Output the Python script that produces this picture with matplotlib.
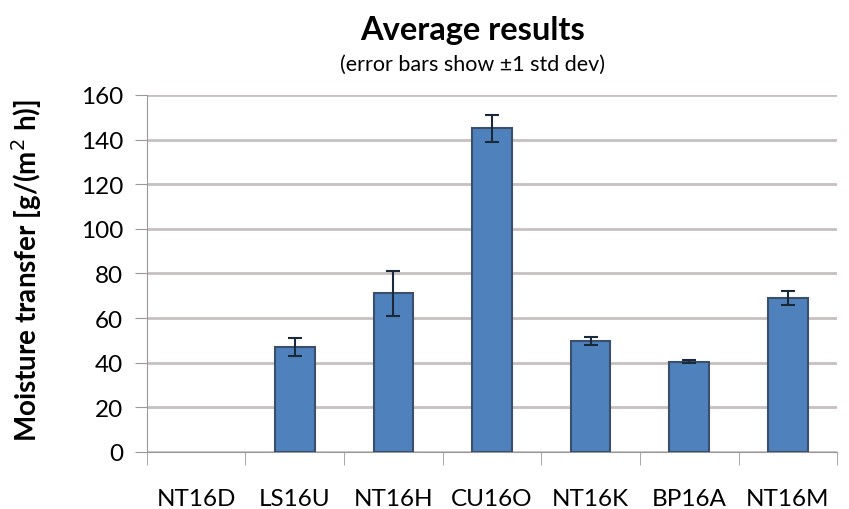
import numpy as np
import matplotlib.pyplot as plt

# ------------
# Chart values
# ------------
samples = ['NT16D', 'LS16U', 'NT16H', 'CU16O', 'NT16K', 'BP16A', 'NT16M']
mean_transfer = [0, 47, 71, 145, 49.5, 40.5, 69]
std_transfer = [0, 4, 10, 6, 1.8, 0.8, 3.2]
yticks = [0, 20, 40, 60, 80, 100, 120, 140, 160]

plt.rcParams['font.family'] = ['Lato', 'DejaVu Sans']

fig = plt.figure(figsize=(8.49, 5.1), dpi=100)
ax = fig.add_axes([0.173, 0.112, 0.813, 0.700])

x = np.arange(len(samples))
bars = ax.bar(x, mean_transfer, width=0.4, color='#4f81bd', edgecolor='#3a4f6a',
              linewidth=1.5, zorder=3)
# empty sample: no outline
for b, v in zip(bars, mean_transfer):
    if v == 0:
        b.set_linewidth(0)
ax.errorbar(x[1:], mean_transfer[1:], yerr=std_transfer[1:], fmt='none',
            ecolor='#1a2a3a', elinewidth=1.5, capsize=5, capthick=1.5, zorder=4)

ax.set_xlim(-0.5, len(samples) - 0.5)
ax.set_ylim(0, 160)
ax.set_yticks(yticks)
ax.set_xticks(x)
ax.set_xticklabels(samples)
ax.tick_params(axis='x', labelsize=17.5, length=0, pad=26)
ax.tick_params(axis='y', labelsize=17.5, length=9, color='#999999', pad=8)
ax.set_xticks(np.arange(-0.5, len(samples)), minor=True)
ax.tick_params(axis='x', which='minor', length=9, color='#999999')

ax.grid(axis='y', color='#c8c0c0', linewidth=2, zorder=0)
for side in ['top', 'right']:
    ax.spines[side].set_visible(False)
ax.spines['left'].set_color('#999999')
ax.spines['bottom'].set_color('#999999')

fig.text(0.031, 0.47, 'Moisture transfer [g/(m$^2$ h)]', rotation=90,
         ha='center', va='center', fontsize=20, fontweight='bold')

fig.text(0.557, 0.94, 'Average results', ha='center', va='center',
         fontsize=23.5, fontweight='bold')
fig.text(0.557, 0.873, '(error bars show \u00b11 std dev)', ha='center', va='center',
         fontsize=15.5)

fig.savefig('out.png', dpi=100)
